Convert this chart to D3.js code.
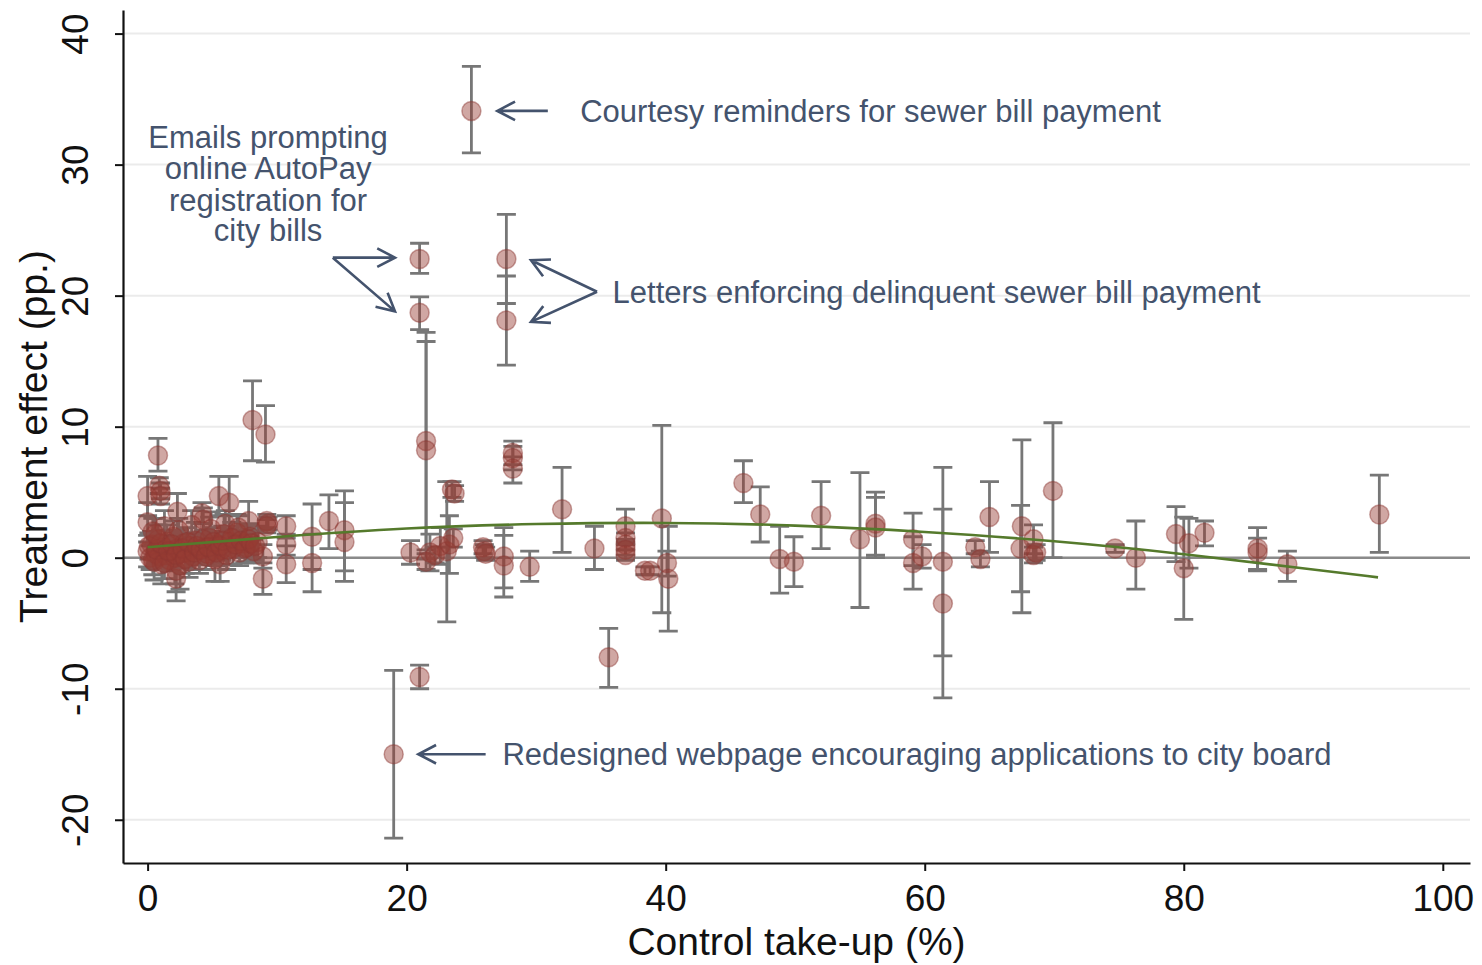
<!DOCTYPE html>
<html>
<head>
<meta charset="utf-8">
<script src="https://cdn.jsdelivr.net/npm/d3@7"></script>
<style>
  body { margin: 0; background: #fff; }
  text { font-family: "Liberation Sans", Arial, Helvetica, sans-serif; }
</style>
</head>
<body>
<div id="chart"></div>
<script>
// control take-up (%) per trial
const takeUp = [
  25.0, 21.0, 21.0, 27.7, 27.7, 19.0, 21.0,
  21.5, 21.5, 23.5, 23.7, 28.2, 28.2, 28.2, 20.3, 21.8, 22.6, 23.1, 23.3, 23.6, 21.5, 22.2, 25.9, 26.0, 26.1, 27.5, 27.5, 29.5,
  32.0, 34.5, 36.9, 36.9, 36.9, 36.9, 36.9, 38.4, 38.8, 39.7, 40.1, 40.2, 35.6, 46.0, 47.3, 48.8, 49.9,
  52.0, 55.0, 56.2, 56.2, 59.1, 59.1, 59.8, 61.4, 61.4, 63.9, 64.3, 65.0, 67.5, 67.4, 68.4, 68.4, 68.6, 69.9,
  74.7, 76.3, 79.4, 80.4, 80.0, 81.6, 85.7, 85.7, 88.0, 95.1,
  8.1, 9.1, 0.8, 0.9, 1.0, 1.0, 0.0, 0.0, 2.3, 4.2, 4.3, 5.5, 6.3, 7.8, 9.2, 9.3, 9.2, 8.9, 10.7, 10.7, 10.7, 12.7, 12.7, 14.0, 15.2, 15.2, 2.2, 2.2, 5.6, 8.9,
  0.0, 0.2, 0.3, 0.5, 0.6, 0.8, 0.9, 1.1, 1.2, 1.4, 1.5, 1.7, 1.8, 2.0, 2.1, 2.3, 2.5, 2.6, 2.8, 3.0,
  3.2, 3.3, 3.5, 3.7, 3.9, 4.0, 4.4, 4.6, 4.8, 5.0, 5.2, 5.4, 5.7, 5.9, 6.1, 6.4, 6.6, 6.9, 7.1, 7.4,
  7.6, 7.9, 8.2, 8.5, 0.4, 1.3, 2.4, 3.4, 4.9, 6.0, 7.0,
  0.1, 0.4, 0.7, 1.0, 1.3, 1.6, 1.9, 2.2, 2.7, 2.9, 3.1, 3.6, 3.8, 4.1, 4.3, 4.5, 4.7, 5.1, 5.3, 5.6,
  5.8, 6.2, 6.5, 6.8, 7.2, 7.5, 7.8, 8.0, 8.3, 0.6
];

// treatment effect (pp.)
const effect = [
  34.1, 22.8, 18.7, 22.8, 18.1, -15.0, -9.1,
  8.9, 8.2, 5.2, 4.9, 8.0, 7.6, 6.8, 0.4, 0.4, 0.9, 0.5, 1.0, 1.5, -0.3, 0.2, 0.8, 0.5, 0.3, 0.1, -0.6, -0.7,
  3.7, 0.7, 2.4, 1.5, 1.0, 0.6, 0.2, -1.0, -1.0, 3.0, -0.4, -1.6, -7.6, 5.7, 3.3, -0.1, -0.3,
  3.2, 1.4, 2.6, 2.3, 1.4, -0.4, 0.1, -0.3, -3.5, 0.8, -0.1, 3.1, 2.4, 0.7, 1.4, 0.2, 0.4, 5.1,
  0.7, 0.0, 1.8, 1.1, -0.8, 1.9, 0.7, 0.4, -0.5, 3.3,
  10.5, 9.4, 7.8, 5.5, 5.1, 4.7, 4.7, 2.7, 3.5, 3.4, 2.9, 4.7, 4.2, 2.8, 2.8, 2.6, 2.4, -1.6, 2.4, 1.0, -0.5, 1.6, -0.4, 2.8, 2.1, 1.2, -1.6, -1.0, -0.5, 0.1,
  0.5, 0.0, 1.0, -0.3, 0.3, 1.4, 0.1, -0.5, 0.8, 0.2, 1.2, -0.2, 0.5, 1.6, 0.0, 0.7, -0.6, 0.3, 1.1, 0.4,
  -0.3, 0.9, 0.1, 1.3, 0.6, -0.2, 0.8, 0.3, 1.5, 0.5, -0.1, 1.0, 0.6, 1.8, 0.2, 1.2, 0.7, 1.9, 0.4, 1.1,
  0.8, 1.6, 0.5, 1.2, 2.0, 2.4, 2.1, 2.5, 2.2, 2.6, 2.3,
  0.9, -0.2, 0.6, 1.1, -0.4, 0.5, 1.0, 0.2, 0.7, -0.1, 1.2, 0.4, 0.9, 0.6, 1.4, 0.1, 0.8, 1.2, 0.4, 0.9,
  1.3, 0.6, 1.5, 1.0, 1.3, 0.7, 1.4, 1.1, 0.9, 1.8
];

// 95% CI bounds
const ciLow = [
  30.9, 21.7, 17.4, 19.4, 14.7, -21.4, -10.0,
  0.6, -0.1, 4.6, 4.3, 7.1, 6.7, 5.7, -0.5, -1.0, -0.5, -4.9, -1.2, 0.8, -0.9, -0.4, 0.3, 0.0, -0.2, -2.3, -3.0, -1.8,
  0.4, -0.9, 1.2, 1.1, 0.6, 0.2, -0.2, -1.3, -1.3, -4.2, -1.4, -5.6, -9.9, 4.2, 1.2, -2.7, -2.2,
  0.7, -3.8, 0.2, 0.0, -0.6, -2.4, -0.8, -7.5, -10.7, 0.3, -0.7, 0.4, -4.2, -2.6, 0.3, -0.4, -0.2, 0.0,
  0.4, -2.4, -0.3, -0.8, -4.7, 0.9, -0.9, -1.0, -1.8, 0.4,
  7.4, 7.3, 6.6, 4.9, 4.5, 4.1, 3.2, 1.2, 2.1, 2.6, 2.0, 3.2, 2.2, 1.3, 2.3, 2.1, 1.9, -2.8, 1.5, 0.2, -1.9, -0.9, -2.6, 0.7, -1.0, -1.8, -2.6, -3.3, -1.8, -0.8,
  -0.7, -0.9, 0.0, -1.7, -0.5, 0.3, -0.6, -2.0, -0.1, -0.8, -0.1, -1.0, -0.5, 0.4, -2.0, -0.2, -2.4, -0.7, 0.3, -0.7,
  -1.5, 0.1, -0.9, -0.1, -0.3, -1.2, -0.5, -0.5, -0.1, -0.4, -1.8, 0.0, -0.2, 0.3, -0.9, 0.3, -0.5, 0.5, -0.6, 0.3,
  -0.3, 0.6, -0.4, 0.0, 1.0, 1.2, 1.2, 1.4, 0.9, 1.6, 1.4,
  -0.1, -1.3, -0.3, 0.1, -1.6, -0.6, 0.0, -0.8, -0.3, -1.2, 0.1, -0.5, -0.1, -0.5, 0.2, -0.9, -0.3, 0.1, -0.6, -0.1,
  0.2, -0.5, 0.3, 0.0, 0.2, -0.4, 0.3, 0.0, -0.2, 0.6
];
const ciHigh = [
  37.5, 24.0, 19.9, 26.2, 21.5, -8.6, -8.2,
  17.2, 16.5, 5.8, 5.5, 8.9, 8.5, 7.7, 1.3, 1.8, 2.3, 5.8, 3.2, 2.2, 0.3, 0.8, 1.3, 1.0, 0.8, 2.3, 1.7, 0.5,
  6.9, 2.4, 3.7, 1.9, 1.4, 1.0, 0.6, -0.7, -0.7, 10.1, 0.5, 2.4, -5.4, 7.4, 5.4, 2.4, 1.6,
  5.8, 6.5, 5.0, 4.6, 3.4, 1.6, 1.0, 6.9, 3.7, 1.3, 0.5, 5.8, 9.0, 4.0, 2.5, 0.8, 1.0, 10.3,
  1.0, 2.8, 3.9, 3.0, 3.1, 2.8, 2.3, 1.5, 0.5, 6.3,
  13.5, 11.6, 9.1, 6.1, 5.7, 5.3, 6.2, 4.2, 4.9, 4.2, 3.8, 6.2, 6.2, 4.3, 3.3, 3.1, 2.9, -0.4, 3.2, 1.8, 0.9, 4.1, 1.8, 4.8, 5.1, 4.2, -0.6, 1.3, 0.8, 1.0,
  1.7, 0.9, 2.0, 1.1, 1.1, 2.5, 0.8, 1.0, 1.7, 1.2, 2.5, 0.6, 1.5, 2.8, 2.0, 1.6, 1.2, 1.3, 1.9, 1.5,
  0.9, 1.7, 1.1, 2.7, 1.5, 0.8, 2.1, 1.1, 3.1, 1.4, 1.6, 2.0, 1.4, 3.3, 1.3, 2.1, 1.9, 3.3, 1.4, 1.9,
  1.9, 2.6, 1.4, 2.4, 3.0, 3.6, 3.0, 3.6, 3.5, 3.6, 3.2,
  1.9, 0.9, 1.5, 2.1, 0.8, 1.6, 2.0, 1.2, 1.7, 1.0, 2.3, 1.3, 1.9, 1.7, 2.6, 1.1, 1.9, 2.3, 1.4, 1.9,
  2.4, 1.7, 2.7, 2.0, 2.4, 1.8, 2.5, 2.2, 2.0, 3.0
];

// fitted quadratic
const fitX = [0, 10, 20, 30, 40, 50, 60, 70, 80, 90, 95];
const fitY = [0.8, 1.6, 2.3, 2.6, 2.7, 2.5, 2.0, 1.3, 0.3, -0.9, -1.5];

const xTicks = [0, 20, 40, 60, 80, 100];
const yTicks = [-20, -10, 0, 10, 20, 30, 40];

const svgWidth = 1482;
const svgHeight = 965;
const plotLeft = 123, plotRight = 1470, plotTop = 10, plotBottom = 863;
const noteColor = "#44536d";

const svg = d3.select("#chart")
  .append("svg")
  .attr("width", svgWidth)
  .attr("height", svgHeight)
  .style("background", "#fff");

const x = d3.scaleLinear().domain([-1.9, 102.1]).range([plotLeft, plotRight]);
const y = d3.scaleLinear().domain([-23.3, 41.8]).range([plotBottom, plotTop]);

// gridlines
svg.append("g")
  .selectAll("line")
  .data(yTicks)
  .enter()
  .append("line")
  .attr("x1", plotLeft).attr("x2", plotRight)
  .attr("y1", d => y(d)).attr("y2", d => y(d))
  .attr("stroke", "#ebebeb")
  .attr("stroke-width", 2);

// zero line
svg.append("line")
  .attr("x1", plotLeft).attr("x2", plotRight)
  .attr("y1", y(0)).attr("y2", y(0))
  .attr("stroke", "#8a8a8a")
  .attr("stroke-width", 2.5);

const data = takeUp.map((t, i) => ({t: t, e: effect[i], lo: ciLow[i], hi: ciHigh[i]}));

// error bars
const bars = svg.append("g")
  .attr("stroke", "#777")
  .attr("stroke-width", 2.8)
  .attr("fill", "none");

bars.selectAll(".bar")
  .data(data)
  .enter()
  .append("path")
  .attr("class", "bar")
  .attr("d", d => {
    const cx = x(d.t), h = 9.5;
    return `M${cx},${y(d.lo)}V${y(d.hi)}M${cx - h},${y(d.lo)}H${cx + h}M${cx - h},${y(d.hi)}H${cx + h}`;
  });

// points
svg.append("g")
  .selectAll(".dot")
  .data(data)
  .enter()
  .append("circle")
  .attr("class", "dot")
  .attr("cx", d => x(d.t))
  .attr("cy", d => y(d.e))
  .attr("r", 9.5)
  .attr("fill", "rgb(150,60,50)")
  .attr("fill-opacity", 0.45)
  .attr("stroke", "rgb(140,55,50)")
  .attr("stroke-opacity", 0.45)
  .attr("stroke-width", 1.5);

// fitted curve, on top of the markers
svg.append("path")
  .datum(fitX.map((v, i) => [v, fitY[i]]))
  .attr("fill", "none")
  .attr("stroke", "#557a2c")
  .attr("stroke-width", 2.6)
  .attr("d", d3.line().x(d => x(d[0])).y(d => y(d[1])).curve(d3.curveBasis));

// axes
const xAxis = svg.append("g")
  .attr("transform", `translate(0, ${plotBottom})`)
  .call(d3.axisBottom(x).tickValues(xTicks).tickSize(8).tickSizeOuter(0).tickPadding(14));
xAxis.select(".domain").attr("stroke", "#111").attr("stroke-width", 2.2);
xAxis.selectAll(".tick line").attr("stroke", "#111").attr("stroke-width", 2);
xAxis.selectAll(".tick text")
  .attr("font-size", 37)
  .attr("fill", "#111")
  .attr("font-family", "Liberation Sans, Arial, sans-serif");

const yAxis = svg.append("g")
  .attr("transform", `translate(${plotLeft}, 0)`)
  .call(d3.axisLeft(y).tickValues(yTicks).tickSize(8).tickSizeOuter(0).tickFormat(d => String(d)));
yAxis.select(".domain").attr("stroke", "#111").attr("stroke-width", 2.2);
yAxis.selectAll(".tick line").attr("stroke", "#111").attr("stroke-width", 2);
yAxis.selectAll(".tick text")
  .attr("x", null).attr("dy", null)
  .attr("text-anchor", "middle")
  .attr("transform", "translate(-35, 0) rotate(-90)")
  .attr("font-size", 37)
  .attr("fill", "#111")
  .attr("font-family", "Liberation Sans, Arial, sans-serif");

// axis titles
svg.append("text")
  .attr("x", (plotLeft + plotRight) / 2)
  .attr("y", 955)
  .attr("text-anchor", "middle")
  .attr("font-size", 39)
  .attr("fill", "#111")
  .text("Control take-up (%)");

svg.append("text")
  .attr("transform", `translate(47, ${(plotTop + plotBottom) / 2}) rotate(-90)`)
  .attr("text-anchor", "middle")
  .attr("font-size", 39)
  .attr("fill", "#111")
  .text("Treatment effect (pp.)");

// annotations
const notes = svg.append("g").attr("fill", noteColor).attr("font-size", 31);

function arrow(x1, y1, x2, y2) {
  const px1 = x(x1), py1 = y(y1), px2 = x(x2), py2 = y(y2);
  const a = Math.atan2(py2 - py1, px2 - px1);
  const len = 20, spread = 0.48;
  const h1 = [px2 - len * Math.cos(a - spread), py2 - len * Math.sin(a - spread)];
  const h2 = [px2 - len * Math.cos(a + spread), py2 - len * Math.sin(a + spread)];
  svg.append("path")
    .attr("d", `M${px1},${py1}L${px2},${py2}M${h1[0]},${h1[1]}L${px2},${py2}L${h2[0]},${h2[1]}`)
    .attr("fill", "none")
    .attr("stroke", noteColor)
    .attr("stroke-width", 2.6);
}

arrow(30.9, 34.1, 27.0, 34.1);
notes.append("text").attr("x", x(33.4)).attr("y", y(34.1)).attr("dy", "0.35em")
  .text("Courtesy reminders for sewer bill payment");

arrow(34.7, 20.3, 29.6, 22.7);
arrow(34.7, 20.3, 29.6, 18.0);
notes.append("text").attr("x", x(35.9)).attr("y", y(20.3)).attr("dy", "0.35em")
  .text("Letters enforcing delinquent sewer bill payment");

arrow(14.3, 22.9, 19.1, 22.9);
arrow(14.3, 22.9, 19.1, 18.8);
const emailLines = ["Emails prompting", "online AutoPay", "registration for", "city bills"];
const emailY = [32.1, 29.7, 27.3, 25.0];
notes.selectAll(".email")
  .data(emailLines)
  .enter()
  .append("text")
  .attr("class", "email")
  .attr("x", x(9.3))
  .attr("y", (d, i) => y(emailY[i]))
  .attr("dy", "0.35em")
  .attr("text-anchor", "middle")
  .text(d => d);

arrow(26.1, -15.0, 20.9, -15.0);
notes.append("text").attr("x", x(27.4)).attr("y", y(-15.0)).attr("dy", "0.35em")
  .text("Redesigned webpage encouraging applications to city board");
</script>
</body>
</html>
